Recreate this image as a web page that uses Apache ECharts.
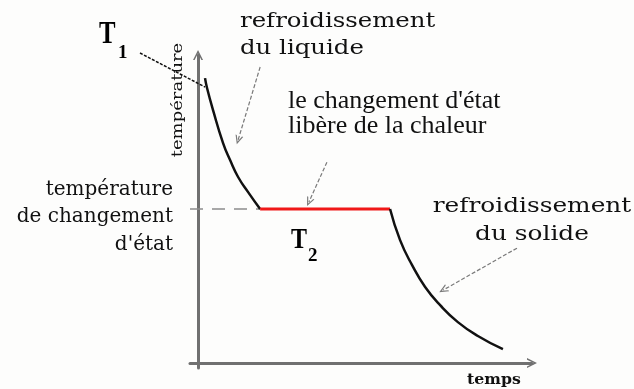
<!DOCTYPE html>
<html>
<head>
<meta charset="utf-8">
<script src="https://cdn.jsdelivr.net/npm/echarts@6/dist/echarts.min.js"></script>
<style>
  html, body { margin: 0; padding: 0; background: #fdfdfc; }
  #chart { width: 634px; height: 389px; }
</style>
</head>
<body>
<div id="chart"></div>
<script>
// Refroidissement d'un corps pur (unités arbitraires)
const liquidTime = [2.1, 2.7, 4.5, 7.5, 9.6, 12.0, 15.0, 18.6];
const liquidTemp = [92.5, 89.3, 82.1, 71.4, 65.9, 60.4, 55.5, 50];
const plateauTime = [18.6, 57.5];
const changeTemp = 50;
const solidTime = [57.5, 60.5, 64.1, 68.0, 72.5, 77.8, 83.8, 91.3];
const solidTemp = [50, 39.9, 31.8, 24.7, 18.8, 13.3, 8.8, 4.5];
const timeMin = -2.4, timeMax = 100;
const tempMin = -1.6, tempMax = 100;
// annotation arrows: [time, temp] of start and tip
const arrowFrom = [[18.6, 96.1], [38.6, 65.2], [95.5, 37.3]];
const arrowTo = [[12.0, 72.4], [33.2, 52.3], [73.4, 23.7]];

const zip = (a, b) => a.map((v, i) => [v, b[i]]);
const arrowPath = 'path://M5,0 L10,10 L8.4,10 L5,3.2 L1.6,10 L0,10 Z';
const serif = '"DejaVu Serif", serif';
const times = '"Liberation Serif", serif';
const ink = '#111';

const chart = echarts.init(document.getElementById('chart'));
chart.setOption({
  animation: false,
  backgroundColor: '#fdfdfc',
  grid: { left: 190, right: 102, top: 55, bottom: 21 },
  xAxis: {
    type: 'value', min: timeMin, max: timeMax,
    axisLine: { onZero: true, symbol: ['none', arrowPath], symbolSize: [14, 10],
      lineStyle: { color: '#707070', width: 3 } },
    axisTick: { show: false }, axisLabel: { show: false }, splitLine: { show: false }
  },
  yAxis: {
    type: 'value', min: tempMin, max: tempMax,
    axisLine: { onZero: true, symbol: ['none', arrowPath], symbolSize: [13, 10],
      lineStyle: { color: '#707070', width: 3 } },
    axisTick: { show: false }, axisLabel: { show: false }, splitLine: { show: false }
  },
  series: [
    {
      name: 'niveau', type: 'line', silent: true, symbol: 'none',
      data: [[timeMin, changeTemp], [plateauTime[0], changeTemp]],
      lineStyle: { color: '#8c8c8c', width: 1.5, type: [13, 9] },
      markLine: {
        silent: true, symbol: ['none', arrowPath], symbolSize: [8, 9],
        label: { show: false },
        lineStyle: { color: '#7a7a7a', width: 1.2, type: [4, 2] },
        data: arrowFrom.map((f, i) => [{ coord: f }, { coord: arrowTo[i] }])
      }
    },
    {
      name: 'liquide', type: 'line', silent: true, symbol: 'none', smooth: 0.5,
      data: zip(liquidTime, liquidTemp),
      lineStyle: { color: ink, width: 2.5 },
      markLine: {
        silent: true, symbol: ['none', 'none'], label: { show: false },
        lineStyle: { color: ink, width: 1.5, type: [3, 1.5] },
        data: [[{ x: 140, y: 53 }, { coord: [liquidTime[0], 89.6] }]]
      }
    },
    {
      name: 'palier', type: 'line', silent: true, symbol: 'none',
      data: [[plateauTime[0], changeTemp], [plateauTime[1], changeTemp]],
      lineStyle: { color: '#f01818', width: 3 }
    },
    {
      name: 'solide', type: 'line', silent: true, symbol: 'none', smooth: 0.5,
      data: zip(solidTime, solidTemp),
      lineStyle: { color: ink, width: 2.5 }
    }
  ],
  graphic: [
    { type: 'text', x: 240, y: 8, scaleX: 1.22, silent: true,
      style: { text: 'refroidissement\ndu liquide', fontFamily: serif, fontSize: 20, lineHeight: 27,
        fill: ink, align: 'left', textAlign: 'left', verticalAlign: 'top', textVerticalAlign: 'top' } },
    { type: 'text', x: 288, y: 89, silent: true,
      style: { text: "le changement d'état\nlibère de la chaleur", fontFamily: times, fontSize: 26, lineHeight: 25,
        fill: ink, align: 'left', textAlign: 'left', verticalAlign: 'top', textVerticalAlign: 'top' } },
    { type: 'text', x: 532, y: 193, scaleX: 1.24, silent: true,
      style: { text: 'refroidissement\ndu solide', fontFamily: serif, fontSize: 20, lineHeight: 28,
        fill: ink, align: 'center', textAlign: 'center', verticalAlign: 'top', textVerticalAlign: 'top' } },
    { type: 'text', x: 173, y: 176, silent: true,
      style: { text: "température\nde changement\nd'état", fontFamily: serif, fontSize: 20, lineHeight: 27.5,
        fill: ink, align: 'right', textAlign: 'right', verticalAlign: 'top', textVerticalAlign: 'top' } },
    { type: 'text', x: 178, y: 100, rotation: Math.PI / 2, scaleX: 1.2, silent: true,
      style: { text: 'température', fontFamily: serif, fontSize: 15,
        fill: ink, align: 'center', textAlign: 'center', verticalAlign: 'middle', textVerticalAlign: 'middle' } },
    { type: 'text', x: 467, y: 380, scaleX: 1.05, silent: true,
      style: { text: 'temps', fontFamily: serif, fontSize: 15, fontWeight: 'bold',
        fill: ink, align: 'left', textAlign: 'left', verticalAlign: 'middle', textVerticalAlign: 'middle' } },
    { type: 'text', x: 99, y: 34.5, scaleX: 0.8, silent: true,
      style: { text: 'T', fontFamily: times, fontSize: 31, fontWeight: 'bold',
        fill: '#000', align: 'left', textAlign: 'left', verticalAlign: 'middle', textVerticalAlign: 'middle' } },
    { type: 'text', x: 118, y: 53.5, silent: true,
      style: { text: '1', fontFamily: times, fontSize: 19, fontWeight: 'bold',
        fill: '#000', align: 'left', textAlign: 'left', verticalAlign: 'middle', textVerticalAlign: 'middle' } },
    { type: 'text', x: 291, y: 240, scaleX: 0.8, silent: true,
      style: { text: 'T', fontFamily: times, fontSize: 30, fontWeight: 'bold',
        fill: '#000', align: 'left', textAlign: 'left', verticalAlign: 'middle', textVerticalAlign: 'middle' } },
    { type: 'text', x: 308, y: 256, silent: true,
      style: { text: '2', fontFamily: times, fontSize: 19, fontWeight: 'bold',
        fill: '#000', align: 'left', textAlign: 'left', verticalAlign: 'middle', textVerticalAlign: 'middle' } }
  ]
});
</script>
</body>
</html>
